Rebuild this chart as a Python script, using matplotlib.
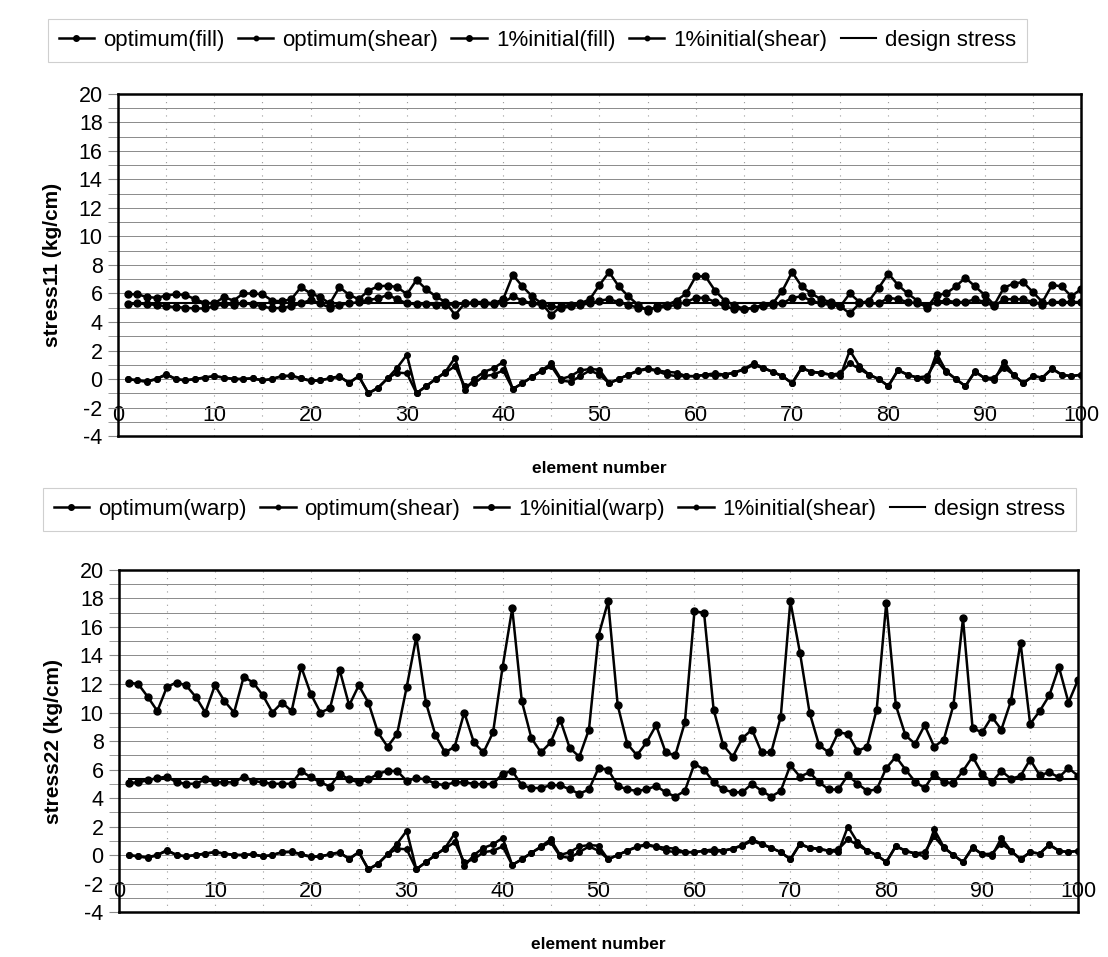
import numpy as np
import matplotlib
matplotlib.use("Agg")
import matplotlib.pyplot as plt
from matplotlib.ticker import MultipleLocator

plt.rcParams['font.family'] = ['Liberation Sans', 'DejaVu Sans']
plt.rcParams['axes.unicode_minus'] = False

# ---------------------------------------------------------------- data
elements = list(range(1, 101))
design_stress = 5.3

# stress11 panel
opt_fill = [5.25, 5.3, 5.25, 5.2, 5.1, 5.05, 5.0, 4.95, 4.95, 5.1,
            5.25, 5.2, 5.3, 5.25, 5.1, 4.95, 5.0, 5.1, 5.3, 5.55,
            5.3, 5.0, 5.2, 5.3, 5.4, 5.55, 5.65, 5.9, 5.6, 5.3,
            5.25, 5.25, 5.2, 5.2, 5.25, 5.3, 5.3, 5.25, 5.25, 5.35,
            5.8, 5.5, 5.3, 5.2, 5.1, 5.0, 5.1, 5.2, 5.3, 5.5,
            5.6, 5.4, 5.2, 5.0, 4.9, 5.0, 5.1, 5.2, 5.4, 5.7,
            5.7, 5.4, 5.1, 4.9, 4.9, 5.0, 5.1, 5.2, 5.3, 5.7,
            5.8, 5.5, 5.3, 5.2, 5.1, 6.0, 5.4, 5.3, 5.3, 5.7,
            5.6, 5.4, 5.3, 5.1, 5.4, 5.5, 5.4, 5.4, 5.6, 5.4,
            5.1, 5.6, 5.6, 5.6, 5.4, 5.2, 5.4, 5.4, 5.4, 5.4]
init_fill = [5.95, 5.95, 5.75, 5.7, 5.85, 5.95, 5.9, 5.6, 5.35, 5.3,
             5.75, 5.5, 6.0, 6.0, 5.95, 5.5, 5.45, 5.6, 6.45, 6.0,
             5.75, 5.3, 6.45, 5.9, 5.6, 6.2, 6.5, 6.55, 6.45, 5.95,
             6.95, 6.3, 5.8, 5.4, 4.5, 5.3, 5.4, 5.4, 5.3, 5.6,
             7.3, 6.5, 5.8, 5.3, 4.5, 5.1, 5.2, 5.3, 5.6, 6.6,
             7.5, 6.5, 5.8, 5.2, 4.8, 5.1, 5.2, 5.5, 6.0, 7.2,
             7.2, 6.2, 5.5, 5.2, 4.9, 5.0, 5.2, 5.3, 6.2, 7.5,
             6.5, 6.0, 5.6, 5.4, 5.1, 4.6, 5.3, 5.5, 6.4, 7.4,
             6.6, 6.0, 5.5, 5.0, 5.9, 6.0, 6.5, 7.1, 6.5, 5.9,
             5.2, 6.4, 6.7, 6.8, 6.1, 5.4, 6.6, 6.5, 5.8, 6.3]

# shear (same in both panels)
opt_shear = [0.0, -0.1, -0.15, 0.0, 0.3, 0.0, -0.1, 0.0, 0.1, 0.2,
             0.1, 0.0, 0.0, 0.05, -0.1, 0.0, 0.2, 0.2, 0.05, -0.1,
             -0.1, 0.05, 0.15, -0.25, 0.2, -1.0, -0.6, 0.05, 0.45, 0.4,
             -1.0, -0.5, 0.0, 0.45, 0.9, -0.5, -0.3, 0.2, 0.3, 0.6,
             -0.7, -0.3, 0.15, 0.55, 0.9, -0.1, -0.2, 0.2, 0.6, 0.3,
             -0.3, 0.0, 0.3, 0.55, 0.7, 0.55, 0.3, 0.2, 0.2, 0.2,
             0.3, 0.4, 0.3, 0.45, 0.65, 1.0, 0.75, 0.5, 0.2, -0.3,
             0.75, 0.5, 0.4, 0.3, 0.4, 1.1, 0.7, 0.3, 0.0, -0.5,
             0.6, 0.3, 0.1, 0.2, 1.3, 0.5, 0.0, -0.5, 0.5, 0.05,
             0.1, 0.8, 0.3, -0.3, 0.2, 0.1, 0.7, 0.3, 0.2, 0.3]
init_shear = [0.0, -0.1, -0.2, 0.0, 0.35, 0.0, -0.1, 0.0, 0.1, 0.2,
              0.1, 0.0, 0.0, 0.05, -0.1, 0.0, 0.2, 0.25, 0.05, -0.15,
              -0.1, 0.05, 0.2, -0.3, 0.2, -1.0, -0.65, 0.05, 0.8, 1.7,
              -1.0, -0.5, 0.0, 0.5, 1.5, -0.8, 0.0, 0.5, 0.75, 1.2,
              -0.7, -0.3, 0.15, 0.6, 1.1, 0.0, 0.2, 0.6, 0.7, 0.65,
              -0.3, 0.0, 0.3, 0.6, 0.75, 0.6, 0.5, 0.45, 0.2, 0.2,
              0.3, 0.2, 0.3, 0.45, 0.7, 1.1, 0.8, 0.5, 0.2, -0.3,
              0.8, 0.5, 0.45, 0.3, 0.2, 2.0, 0.9, 0.3, 0.0, -0.5,
              0.65, 0.3, 0.1, -0.1, 1.8, 0.55, 0.0, -0.5, 0.55, 0.05,
              -0.1, 1.2, 0.3, -0.3, 0.2, 0.1, 0.75, 0.3, 0.2, 0.3]

# stress22 panel
opt_warp = [5.05, 5.1, 5.25, 5.4, 5.5, 5.1, 5.0, 5.0, 5.3, 5.1,
            5.1, 5.1, 5.5, 5.2, 5.1, 5.0, 5.0, 5.0, 5.9, 5.45,
            5.1, 4.8, 5.7, 5.3, 5.1, 5.3, 5.7, 5.9, 5.9, 5.2,
            5.4, 5.3, 5.0, 4.9, 5.1, 5.1, 5.0, 4.95, 5.0, 5.7,
            5.9, 4.9, 4.7, 4.7, 4.9, 4.9, 4.6, 4.3, 4.6, 6.1,
            6.0, 4.85, 4.6, 4.5, 4.6, 4.85, 4.4, 4.1, 4.5, 6.4,
            6.0, 5.1, 4.6, 4.4, 4.4, 5.0, 4.5, 4.1, 4.5, 6.3,
            5.5, 5.8, 5.1, 4.6, 4.6, 5.6, 5.0, 4.5, 4.6, 6.1,
            6.9, 6.0, 5.15, 4.7, 5.7, 5.1, 5.05, 5.9, 6.9, 5.7,
            5.1, 5.9, 5.35, 5.55, 6.7, 5.6, 5.8, 5.45, 6.1, 5.55]
init_warp = [12.1, 12.0, 11.1, 10.1, 11.8, 12.1, 11.9, 11.1, 10.0, 11.9,
             10.8, 10.0, 12.5, 12.1, 11.2, 10.0, 10.7, 10.1, 13.2, 11.3,
             10.0, 10.3, 13.0, 10.5, 11.9, 10.7, 8.6, 7.6, 8.5, 11.8,
             15.3, 10.7, 8.4, 7.2, 7.6, 10.0, 7.9, 7.2, 8.6, 13.2,
             17.3, 10.8, 8.2, 7.2, 7.9, 9.5, 7.5, 6.9, 8.8, 15.4,
             17.8, 10.5, 7.8, 7.0, 7.9, 9.1, 7.2, 7.0, 9.3, 17.1,
             17.0, 10.2, 7.7, 6.9, 8.2, 8.8, 7.2, 7.2, 9.7, 17.8,
             14.2, 10.0, 7.7, 7.2, 8.6, 8.5, 7.3, 7.6, 10.2, 17.7,
             10.5, 8.4, 7.8, 9.1, 7.6, 8.1, 10.5, 16.6, 8.9, 8.6,
             9.7, 8.8, 10.8, 14.9, 9.2, 10.1, 11.2, 13.2, 10.7, 12.3]

panels = [
    ("stress11 (kg/cm)", "fill", opt_fill, init_fill),
    ("stress22 (kg/cm)", "warp", opt_warp, init_warp),
]

# ---------------------------------------------------------------- figure
fig = plt.figure(figsize=(11.08, 9.57), dpi=100)
ax_rects = [[0.1065, 0.5444, 0.8691, 0.3574],
            [0.1074, 0.0470, 0.8656, 0.3574]]
legend_y = [0.958, 0.468]
legend_x = [0.485, 0.505]

for (ylab, kind, opt, init), rect, ly, lx in zip(panels, ax_rects, legend_y, legend_x):
    ax = fig.add_axes(rect)
    design = [design_stress] * len(elements)

    l1, = ax.plot(elements, opt, color='black', lw=1.8, marker='o', ms=5)
    l2, = ax.plot(elements, opt_shear, color='black', lw=1.8, marker='o', ms=4)
    l3, = ax.plot(elements, init, color='black', lw=1.8, marker='o', ms=5)
    l4, = ax.plot(elements, init_shear, color='black', lw=1.8, marker='o', ms=4)
    l5, = ax.plot(elements, design, color='black', lw=1.5)

    ax.set_xlim(0, 100)
    ax.set_ylim(-4, 20)
    ax.xaxis.set_major_locator(MultipleLocator(10))
    ax.xaxis.set_minor_locator(MultipleLocator(5))
    ax.yaxis.set_major_locator(MultipleLocator(2))
    ax.yaxis.set_minor_locator(MultipleLocator(1))

    ax.grid(True, axis='y', which='both', color='#8a8a8a', lw=0.7)
    ax.grid(True, axis='x', which='both', color='#9a9a9a', lw=0.8, ls=(0, (1, 5)))
    ax.set_axisbelow(True)

    ax.tick_params(axis='y', which='both', direction='out', length=7,
                   color='#8a8a8a', labelsize=15.5, pad=4)
    ax.tick_params(axis='x', which='both', length=0, labelsize=15.5, pad=-22)

    for sp in ax.spines.values():
        sp.set_linewidth(1.8)
        sp.set_color('black')

    ax.set_ylabel(ylab, fontsize=15, fontweight='bold', labelpad=12)
    ax.set_xlabel('element number', fontsize=12.5, fontweight='bold', labelpad=18)

    leg = fig.legend([l1, l2, l3, l4, l5],
                     ['optimum(%s)' % kind, 'optimum(shear)',
                      '1%%initial(%s)' % kind, '1%initial(shear)', 'design stress'],
                     loc='center', bbox_to_anchor=(lx, ly), ncol=5,
                     fontsize=16, handlelength=1.6, handletextpad=0.4,
                     columnspacing=0.6, frameon=True, fancybox=False,
                     borderpad=0.5, markerscale=0.8)
    leg.get_frame().set_edgecolor('#c4c4c4')
    leg.get_frame().set_linewidth(0.8)

fig.savefig('out.png', dpi=100, facecolor='white')
